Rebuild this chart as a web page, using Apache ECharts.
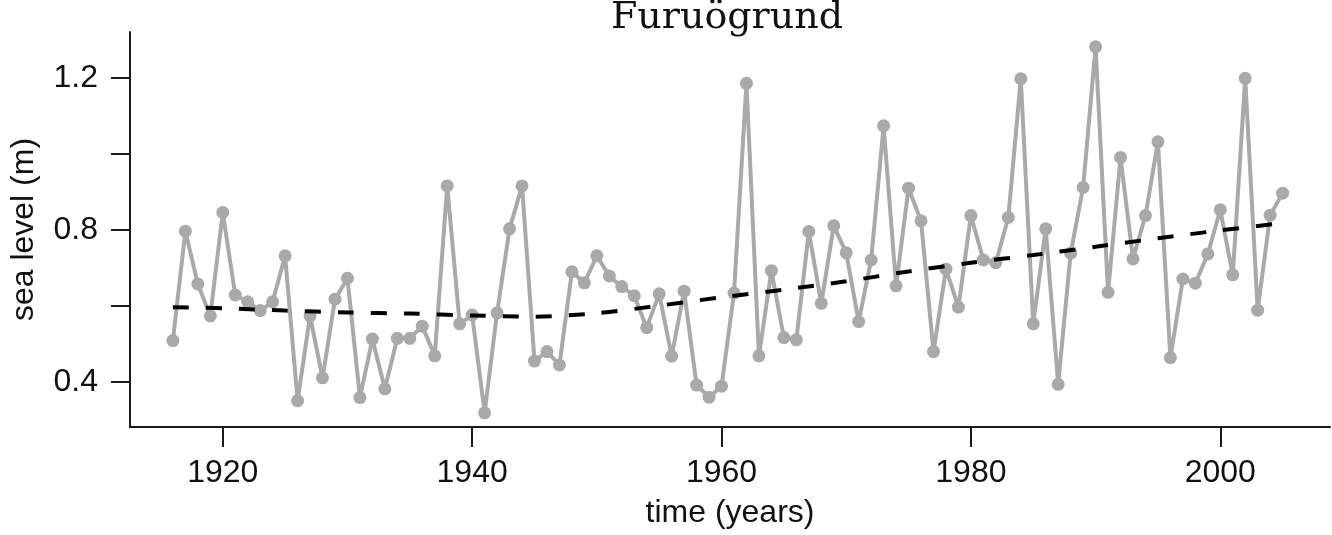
<!DOCTYPE html>
<html>
<head>
<meta charset="utf-8">
<script src="https://cdn.jsdelivr.net/npm/echarts@6/dist/echarts.min.js"></script>
<style>
html,body{margin:0;padding:0;background:#fff;}
#chart{width:1332px;height:535px;}
</style>
</head>
<body>
<div id="chart"></div>
<script>
const years = [1916,1917,1918,1919,1920,1921,1922,1923,1924,1925,
  1926,1927,1928,1929,1930,1931,1932,1933,1934,1935,
  1936,1937,1938,1939,1940,1941,1942,1943,1944,1945,
  1946,1947,1948,1949,1950,1951,1952,1953,1954,1955,
  1956,1957,1958,1959,1960,1961,1962,1963,1964,1965,
  1966,1967,1968,1969,1970,1971,1972,1973,1974,1975,
  1976,1977,1978,1979,1980,1981,1982,1983,1984,1985,
  1986,1987,1988,1989,1990,1991,1992,1993,1994,1995,
  1996,1997,1998,1999,2000,2001,2002,2003,2004,2005];
const seaLevel = [0.509,0.797,0.658,0.574,0.846,0.629,0.611,0.588,0.611,0.732,
  0.351,0.574,0.411,0.618,0.673,0.359,0.513,0.382,0.515,0.515,
  0.547,0.469,0.916,0.553,0.576,0.319,0.582,0.803,0.916,0.455,
  0.480,0.445,0.690,0.661,0.732,0.679,0.651,0.627,0.543,0.632,
  0.468,0.639,0.392,0.360,0.389,0.634,1.186,0.469,0.693,0.517,
  0.511,0.796,0.607,0.811,0.740,0.559,0.721,1.074,0.653,0.910,
  0.824,0.480,0.697,0.597,0.838,0.721,0.714,0.833,1.198,0.553,
  0.803,0.394,0.739,0.912,1.282,0.636,0.991,0.724,0.838,1.032,
  0.464,0.671,0.660,0.737,0.853,0.682,1.199,0.589,0.839,0.897];
const trendYears = [1916,1920,1925,1930,1935,1940,1945,1950,1955,1960,1965,1970,1975,1980,1985,1990,1995,2000,2005];
const trendValues = [0.597,0.594,0.588,0.583,0.580,0.575,0.572,0.581,0.601,0.623,0.643,0.665,0.691,0.714,0.734,0.756,0.778,0.799,0.818];
const xTicks = [1920,1940,1960,1980,2000];
const yTicks = [0.4,0.6,0.8,1.0,1.2];
const yLabels = [0.4,0.8,1.2];

const font = 'Liberation Sans, Arial, Helvetica, sans-serif';
const chart = echarts.init(document.getElementById('chart'), null, {renderer:'canvas'});
chart.setOption({
  animation: false,
  backgroundColor: '#fff',
  graphic: [{
    type: 'text',
    x: 727, y: -1,
    style: {
      text: 'Furuögrund',
      align: 'center', verticalAlign: 'top',
      font: 'normal 38px "DejaVu Serif", serif',
      fill: '#111'
    }
  }],
  grid: {left: 127, right: 2, top: 32, bottom: 108, containLabel: false},
  xAxis: {
    type: 'value',
    min: 1912.56, max: 2008.8,
    name: 'time (years)', nameLocation: 'middle', nameGap: 70,
    nameTextStyle: {fontFamily: font, fontSize: 32, color: '#111'},
    axisLine: {show: true, onZero: false, lineStyle: {color: '#1a1a1a', width: 2}},
    axisTick: {show: true, inside: false, length: 20, customValues: xTicks, lineStyle: {color: '#1a1a1a', width: 2}},
    axisLabel: {customValues: xTicks, margin: 30, fontFamily: font, fontSize: 32, color: '#111', formatter: v => String(v)},
    splitLine: {show: false}
  },
  yAxis: {
    type: 'value',
    min: 0.2816, max: 1.321,
    name: 'sea level (m)', nameLocation: 'middle', nameGap: 90, nameRotate: 90,
    nameTextStyle: {fontFamily: font, fontSize: 32, color: '#111'},
    axisLine: {show: true, onZero: false, lineStyle: {color: '#1a1a1a', width: 2}},
    axisTick: {show: true, inside: false, length: 19, customValues: yTicks, lineStyle: {color: '#1a1a1a', width: 2}},
    axisLabel: {customValues: yLabels, margin: 32, fontFamily: font, fontSize: 32, color: '#111', formatter: v => v.toFixed(1)},
    splitLine: {show: false}
  },
  series: [
    {
      type: 'line',
      data: years.map((y, i) => [y, seaLevel[i]]),
      symbol: 'circle', symbolSize: 13,
      itemStyle: {color: '#a9a9a9'},
      lineStyle: {color: '#a9a9a9', width: 4},
      z: 2
    },
    {
      type: 'line',
      data: trendYears.map((y, i) => [y, trendValues[i]]),
      symbol: 'none', smooth: 0.3,
      lineStyle: {color: '#000', width: 4, type: [16, 17]},
      z: 3
    }
  ]
});
</script>
</body>
</html>
